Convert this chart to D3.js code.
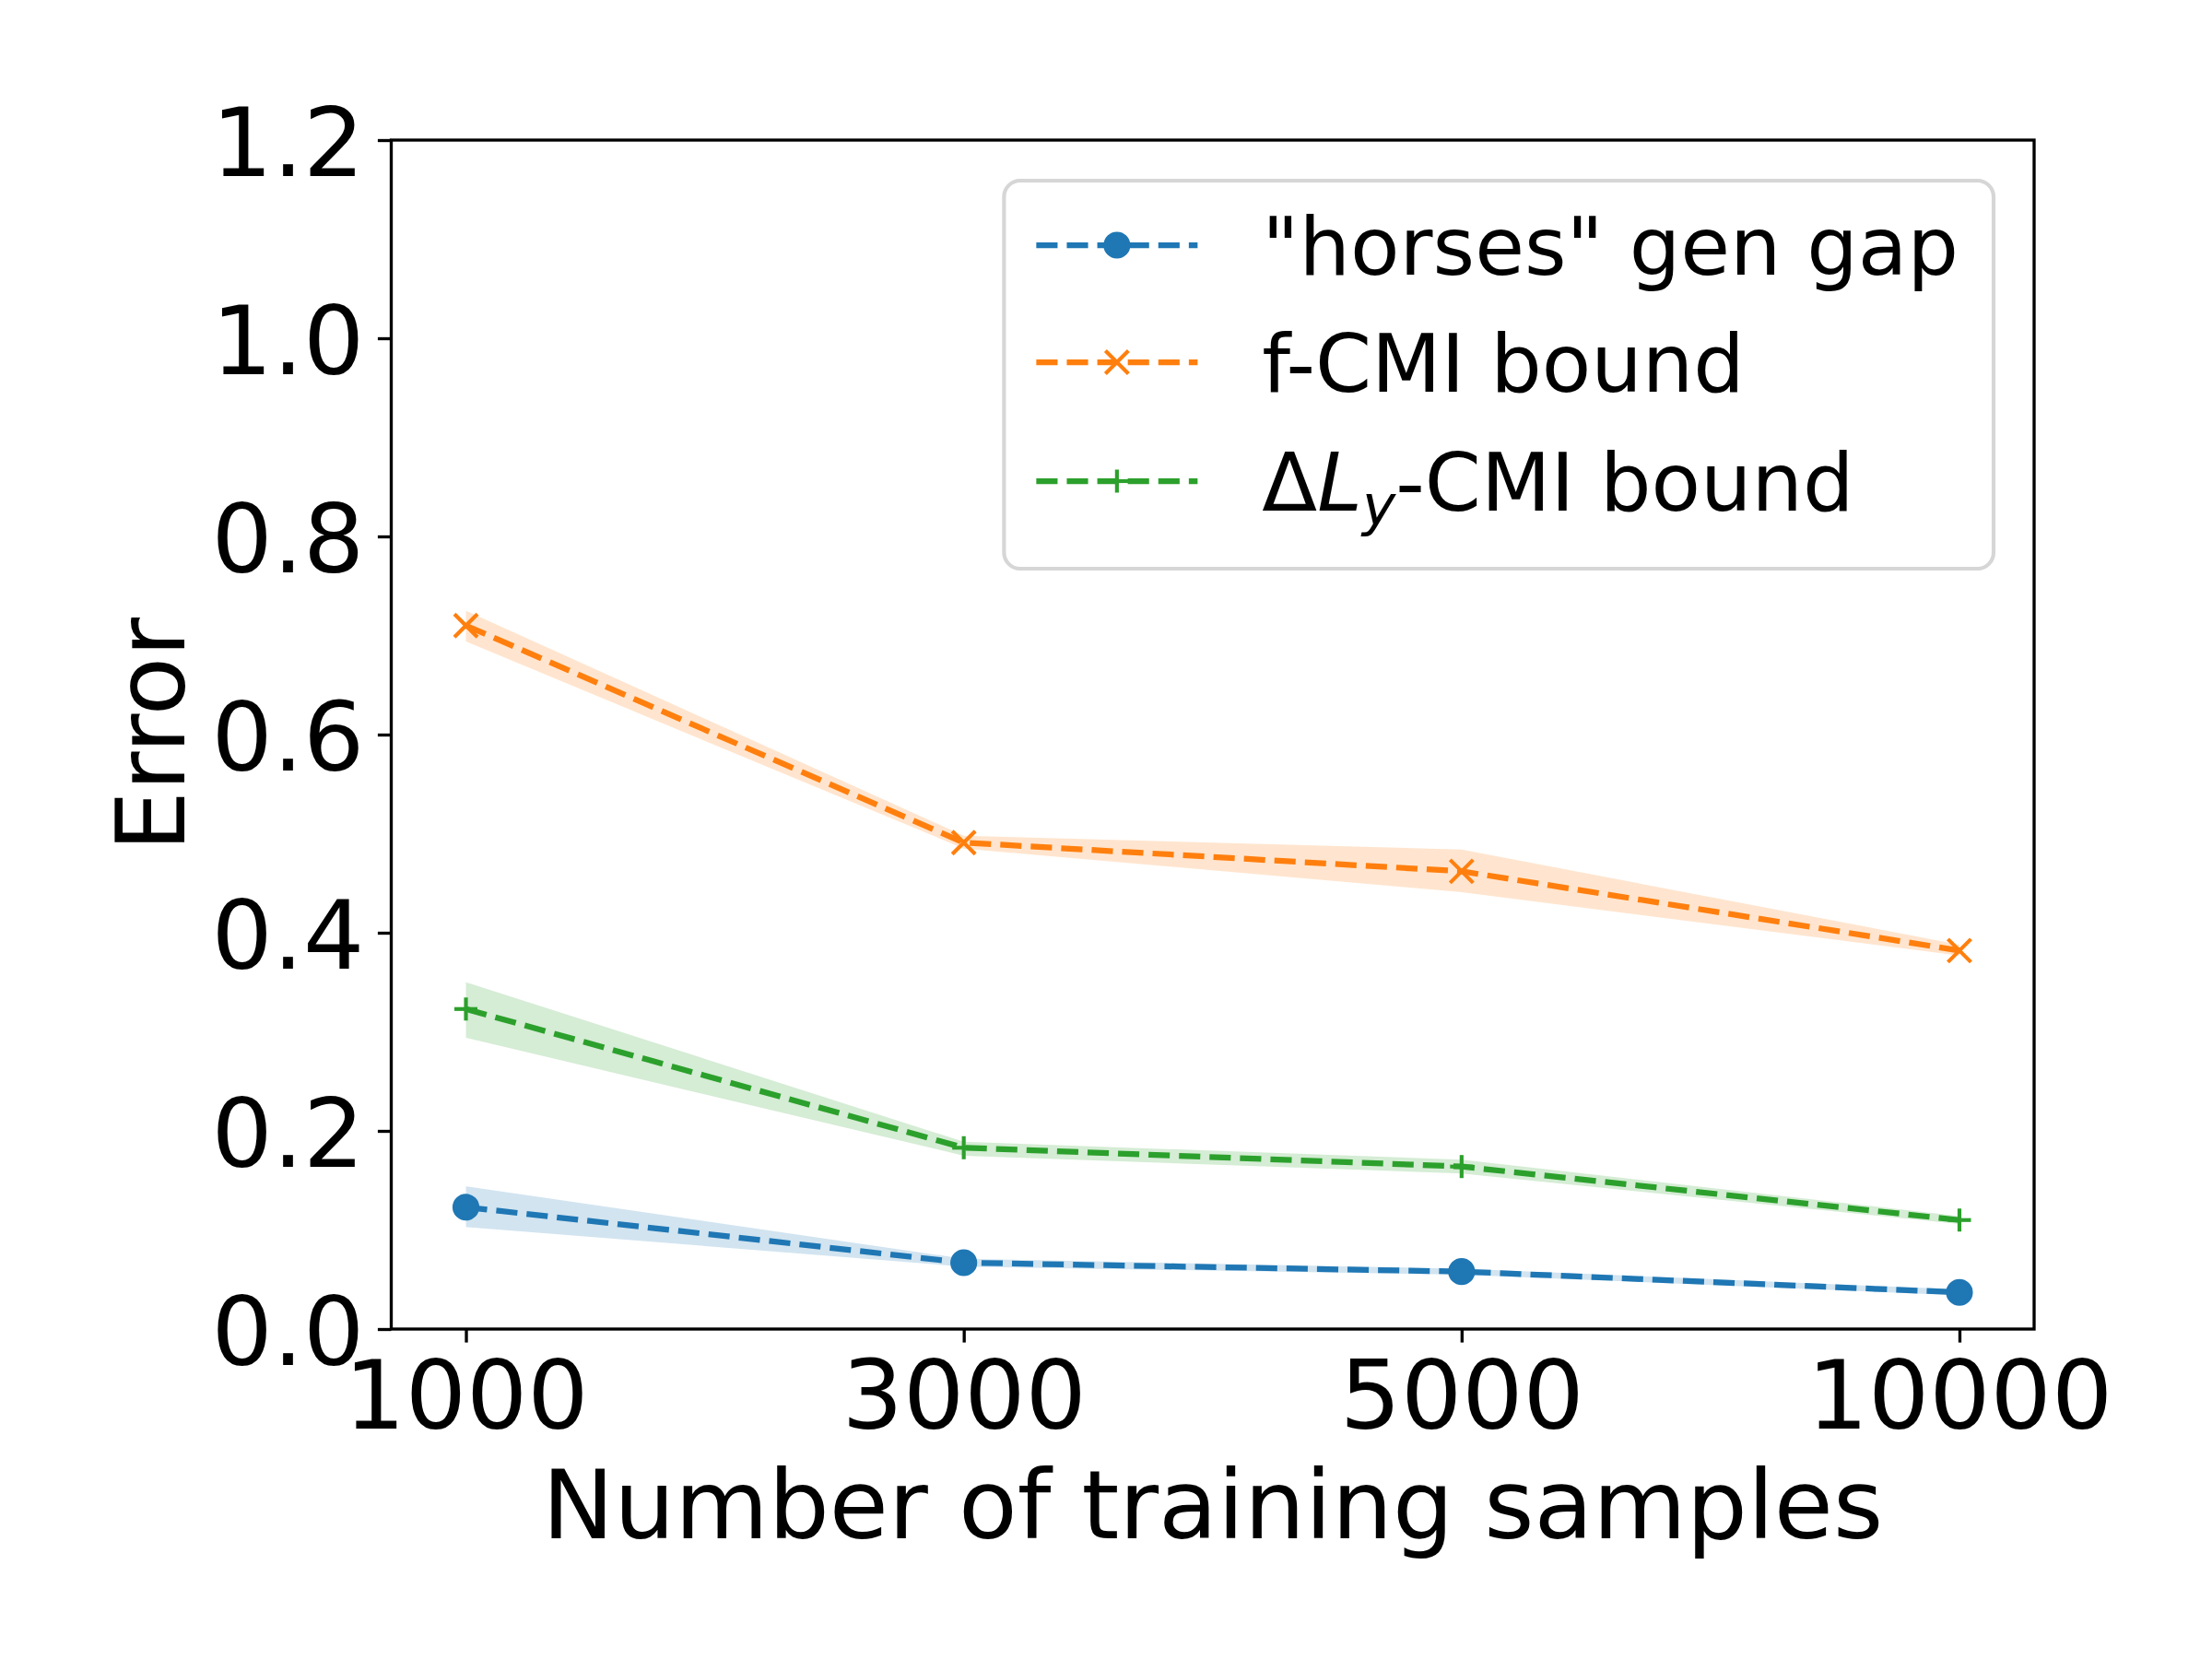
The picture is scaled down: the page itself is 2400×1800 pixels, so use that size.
<!DOCTYPE html>
<html>
<head>
<meta charset="utf-8">
<script src="https://cdn.jsdelivr.net/npm/d3@7"></script>
<style>
  body { margin: 0; background: white; }
  text { font-family: "DejaVu Sans", sans-serif; }
</style>
</head>
<body>
<svg id="chart" width="2400" height="1800"></svg>
<script>

// x categories (number of training samples)
var samples = ["1000", "3000", "5000", "10000"]

// "horses" gen gap
var gapMean = [0.123, 0.067, 0.058, 0.037]
var gapLow  = [0.103, 0.063, 0.055, 0.034]
var gapHigh = [0.144, 0.071, 0.061, 0.040]

// f-CMI bound
var fcmiMean = [0.710, 0.491, 0.462, 0.382]
var fcmiLow  = [0.694, 0.485, 0.441, 0.377]
var fcmiHigh = [0.725, 0.498, 0.484, 0.388]

// delta L_y-CMI bound
var dlyMean = [0.323, 0.183, 0.164, 0.110]
var dlyLow  = [0.294, 0.175, 0.157, 0.106]
var dlyHigh = [0.350, 0.189, 0.171, 0.114]

var yTicks = [0, 0.2, 0.4, 0.6, 0.8, 1.0, 1.2]

var series = [
  { name: "gap",  mean: gapMean,  low: gapLow,  high: gapHigh,  color: "#1f77b4", marker: "o" },
  { name: "fcmi", mean: fcmiMean, low: fcmiLow, high: fcmiHigh, color: "#ff7f0e", marker: "x" },
  { name: "dly",  mean: dlyMean,  low: dlyLow,  high: dlyHigh,  color: "#2ca02c", marker: "+" }
]

// plot area in pixels (names avoid window.top etc)
var plotL = 424.5, plotR = 2207, plotT = 152, plotB = 1442
var tickFont = 104.2, legFont = 87.5
var lw = 6.25, dash = "23.1,10"

var SVG = d3.select("#chart")

var x = d3.scalePoint()
  .domain(samples)
  .range([plotL, plotR])
  .padding(0.15)

var y = d3.scaleLinear()
  .domain([0, 1.2])
  .range([plotB, plotT])

// bands first, so lines sit on top
series.forEach(function(s) {
  var area = d3.area()
    .x(function(d, i){ return x(samples[i]) })
    .y0(function(d, i){ return y(s.low[i]) })
    .y1(function(d, i){ return y(s.high[i]) })
  SVG.append("path")
    .datum(s.mean)
    .attr("d", area)
    .style("fill", s.color)
    .style("fill-opacity", 0.2)
    .style("stroke", "none")
})

function drawMarker(g, type, cx, cy, color) {
  if (type == "o") {
    g.append("circle")
      .attr("cx", cx).attr("cy", cy).attr("r", 12.5)
      .style("fill", color).style("stroke", color).style("stroke-width", 4.17)
  } else {
    var h = 12.5
    var segs = type == "x"
      ? [[-h, -h, h, h], [-h, h, h, -h]]
      : [[-h, 0, h, 0], [0, -h, 0, h]]
    segs.forEach(function(p) {
      g.append("line")
        .attr("x1", cx + p[0]).attr("y1", cy + p[1])
        .attr("x2", cx + p[2]).attr("y2", cy + p[3])
        .style("stroke", color).style("stroke-width", 4.17)
    })
  }
}

series.forEach(function(s) {
  var line = d3.line()
    .x(function(d, i){ return x(samples[i]) })
    .y(function(d){ return y(d) })
  SVG.append("path")
    .datum(s.mean)
    .attr("d", line)
    .style("fill", "none")
    .style("stroke", s.color)
    .style("stroke-width", lw)
    .style("stroke-dasharray", dash)
    .style("stroke-linejoin", "round")

  var g = SVG.append("g")
  s.mean.forEach(function(v, i) {
    drawMarker(g, s.marker, x(samples[i]), y(v), s.color)
  })
})

// axes
var yAxis = SVG.append("g")
  .attr("transform", "translate(" + plotL + ",0)")
  .call(d3.axisLeft(y).tickValues(yTicks).tickFormat(d3.format(".1f"))
    .tickSize(14.6).tickPadding(14.6))
var xAxis = SVG.append("g")
  .attr("transform", "translate(0," + plotB + ")")
  .call(d3.axisBottom(x).tickSize(14.6).tickPadding(14.6))

;[xAxis, yAxis].forEach(function(a) {
  a.select(".domain").remove()
  a.selectAll(".tick line").style("stroke", "black").style("stroke-width", 3.33)
  a.selectAll(".tick text")
    .style("font-family", "DejaVu Sans")
    .style("font-size", tickFont + "px")
    .style("fill", "black")
})
yAxis.selectAll(".tick text").attr("dy", "0.365em")
xAxis.selectAll(".tick text").attr("dy", "0.76em")

// frame
SVG.append("rect")
  .attr("x", plotL).attr("y", plotT)
  .attr("width", plotR - plotL).attr("height", plotB - plotT)
  .style("fill", "none")
  .style("stroke", "black")
  .style("stroke-width", 3.33)

// axis labels
SVG.append("text")
  .attr("x", (plotL + plotR) / 2)
  .attr("y", 1669)
  .attr("text-anchor", "middle")
  .style("font-size", tickFont + "px")
  .text("Number of training samples")

SVG.append("text")
  .attr("transform", "translate(200," + (plotT + plotB) / 2 + ") rotate(-90)")
  .attr("text-anchor", "middle")
  .style("font-size", tickFont + "px")
  .text("Error")

// legend
var leg = SVG.append("g")
var legTop = plotT + 44
var legRight = plotR - 44
var rowY = [legTop + 70, legTop + 197, legTop + 326]
var frame = leg.append("rect")

var labels = leg.selectAll("mylabels")
  .data(series)
  .enter()
  .append("text")
    .attr("y", function(d, i){ return rowY[i] + 32 })
    .style("font-size", legFont + "px")
    .style("fill", "black")

labels.filter(function(d, i){ return i == 0 }).text('"horses" gen gap')
labels.filter(function(d, i){ return i == 1 }).text("f-CMI bound")
var t3 = labels.filter(function(d, i){ return i == 2 })
t3.append("tspan").text("\u0394")
t3.append("tspan").style("font-style", "italic").text("L")
t3.append("tspan").style("font-style", "italic").style("font-size", (legFont * 0.7) + "px")
  .attr("dy", 15).text("y")
t3.append("tspan").attr("dy", -15).text("-CMI bound")

var maxW = 0
labels.each(function(){ maxW = Math.max(maxW, this.getComputedTextLength()) })
var textX = legRight - 38 - maxW
var handleX1 = textX - 70 - 175
var legLeft = handleX1 - 35
labels.attr("x", textX)

frame
  .attr("x", legLeft).attr("y", legTop)
  .attr("width", legRight - legLeft).attr("height", 421)
  .attr("rx", 17.5).attr("ry", 17.5)
  .style("fill", "white").style("fill-opacity", 0.8)
  .style("stroke", "#d6d6d6").style("stroke-width", 4.17)

series.forEach(function(s, i) {
  leg.append("line")
    .attr("x1", handleX1).attr("x2", handleX1 + 175)
    .attr("y1", rowY[i]).attr("y2", rowY[i])
    .style("stroke", s.color)
    .style("stroke-width", lw)
    .style("stroke-dasharray", dash)
  drawMarker(leg, s.marker, handleX1 + 87.5, rowY[i], s.color)
})

</script>
</body>
</html>
